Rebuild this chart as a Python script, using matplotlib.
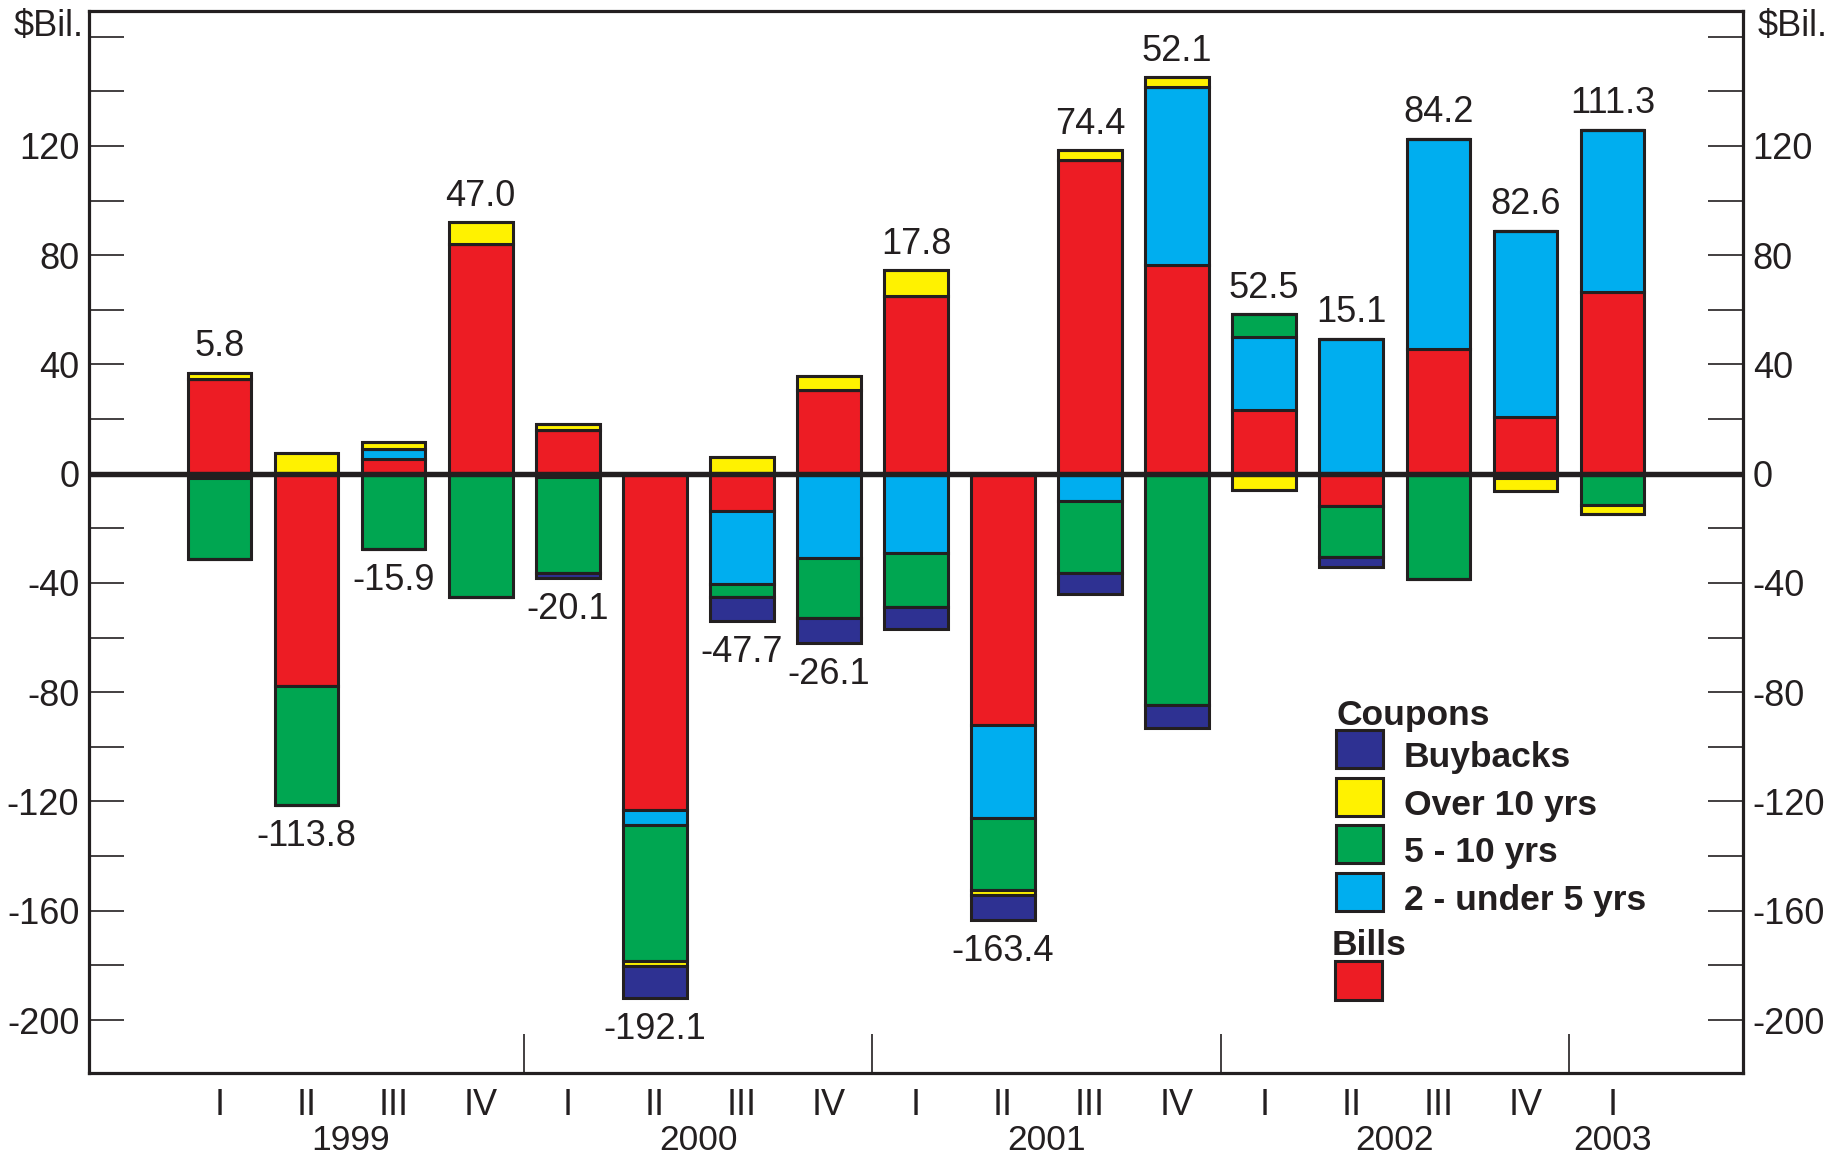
import matplotlib
matplotlib.use("Agg")
import matplotlib.pyplot as plt
from matplotlib.patches import Rectangle
import numpy as np

plt.rcParams['font.family'] = ['Liberation Sans', 'DejaVu Sans']

# Data ($ billions), by quarter 1999 Q1 - 2003 Q1
quarters = ['I', 'II', 'III', 'IV', 'I', 'II', 'III', 'IV', 'I', 'II', 'III', 'IV',
            'I', 'II', 'III', 'IV', 'I']
years = ['1999', '2000', '2001', '2002', '2003']
year_pos = [1.5, 5.5, 9.5, 13.5, 16.0]

bills = [34.5, -77.7, 5.5, 84.0, 16.0, -123.2, -13.6, 30.6, 65.2, -92.0, 114.8, 76.4,
         23.2, -12.0, 45.8, 20.8, 66.4]
two_to_five = [-1.5, 0, 3.7, 0, -1.2, -5.5, -26.7, -30.7, -29.1, -33.9, -10.1, 65.2,
               26.8, 49.4, 76.8, 68.2, 59.5]
five_to_ten = [-29.7, -43.6, -27.5, -45.0, -35.3, -49.6, -4.8, -22.1, -19.6, -26.5, -26.3, -84.8,
               8.5, -18.4, -38.4, -1.5, -11.3]
over_ten = [2.5, 7.5, 2.4, 8.0, 2.2, -2.0, 6.2, 5.3, 9.4, -1.7, 3.7, 3.6,
            -6.0, 0, 0, -4.9, -3.3]
buybacks = [0, 0, 0, 0, -1.8, -11.8, -8.8, -9.2, -8.1, -9.3, -7.7, -8.3,
            0, -3.9, 0, 0, 0]
totals = [5.8, -113.8, -15.9, 47.0, -20.1, -192.1, -47.7, -26.1, 17.8, -163.4, 74.4, 52.1,
          52.5, 15.1, 84.2, 82.6, 111.3]

series = [bills, two_to_five, five_to_ten, over_ten, buybacks]
colors = ['#ED1C24', '#00AEEF', '#00A651', '#FFF200', '#2E3192']
dark = '#231F20'

W, H = 1839, 1162
fig = plt.figure(figsize=(W / 100, H / 100), dpi=100)
ax = fig.add_axes([89 / W, 1 - 1073 / H, (1743 - 89) / W, (1073 - 11) / H])

x = np.arange(len(quarters))
pos_base = np.zeros(len(x))
neg_base = np.zeros(len(x))
for vals, col in zip(series, colors):
    v = np.array(vals, dtype=float)
    p = np.where(v > 0, v, 0)
    n = np.where(v < 0, v, 0)
    ax.bar(x, p, 0.73, bottom=pos_base, color=col, edgecolor=dark, linewidth=2.2, zorder=2)
    ax.bar(x, n, 0.73, bottom=neg_base, color=col, edgecolor=dark, linewidth=2.2, zorder=2)
    pos_base += p
    neg_base += n

# Net totals above / below each bar
for i, t in enumerate(totals):
    if t >= 0:
        ax.annotate(f"{t:.1f}", (x[i], pos_base[i]), xytext=(0, 6), textcoords='offset points',
                    ha='center', va='bottom', fontsize=26, color=dark)
    else:
        ax.annotate(f"{t:.1f}", (x[i], neg_base[i]), xytext=(0, -10), textcoords='offset points',
                    ha='center', va='top', fontsize=26, color=dark)

ax.axhline(0, color=dark, linewidth=3.9, zorder=3)

ax.set_xlim(-1.5, 17.5)
ax.set_ylim(-219.4, 169.4)

# y axis: ticks every 20, labels every 40
yt = list(range(-200, 161, 20))
ax.set_yticks(yt)
ax.set_yticklabels([str(v) if v % 40 == 0 and v != 160 else '' for v in yt])
ax.tick_params(axis='y', direction='in', length=25, width=1.2, color=dark,
               left=True, right=True, labelleft=True, labelright=True,
               labelsize=26, labelcolor=dark, pad=7)

ax.set_xticks(x)
ax.set_xticklabels(quarters)
ax.tick_params(axis='x', length=0, pad=11, labelsize=26, labelcolor=dark)

for yr, xp in zip(years, year_pos):
    ax.text(xp, -0.0725, yr, transform=ax.get_xaxis_transform(), ha='center', va='baseline',
            fontsize=25.5, color=dark)

# year separators
ax.vlines([3.5, 7.5, 11.5, 15.5], -219.4, -205, color=dark, linewidth=1.2)

for s in ax.spines.values():
    s.set_linewidth(2.3)
    s.set_color(dark)

fig.text(14 / W, 1 - 36 / H, '$Bil.', fontsize=26, color=dark, ha='left', va='baseline')
fig.text(1758 / W, 1 - 36 / H, '$Bil.', fontsize=26, color=dark, ha='left', va='baseline')

# Legend (drawn by hand)
def box(x0, y0, x1, y1, col):
    fig.patches.append(Rectangle((x0 / W, 1 - y1 / H), (x1 - x0) / W, (y1 - y0) / H,
                                 transform=fig.transFigure, facecolor=col,
                                 edgecolor=dark, linewidth=2.2))

fig.text(1336 / W, 1 - 725 / H, 'Coupons', fontsize=25.5, fontweight='bold', color=dark,
         va='baseline')
leg_labels = ['Buybacks', 'Over 10 yrs', '5 - 10 yrs', '2 - under 5 yrs']
leg_colors = ['#2E3192', '#FFF200', '#00A651', '#00AEEF']
for k, (lab, col) in enumerate(zip(leg_labels, leg_colors)):
    top = 730 + k * 47.6
    box(1336, top, 1383, top + 38, col)
    fig.text(1404 / W, 1 - (top + 37) / H, lab, fontsize=25.5, fontweight='bold', color=dark,
             va='baseline')
fig.text(1332 / W, 1 - 955 / H, 'Bills', fontsize=25.5, fontweight='bold', color=dark,
         va='baseline')
box(1335, 961, 1382, 1000, '#ED1C24')

fig.savefig('out.png', dpi=100)
